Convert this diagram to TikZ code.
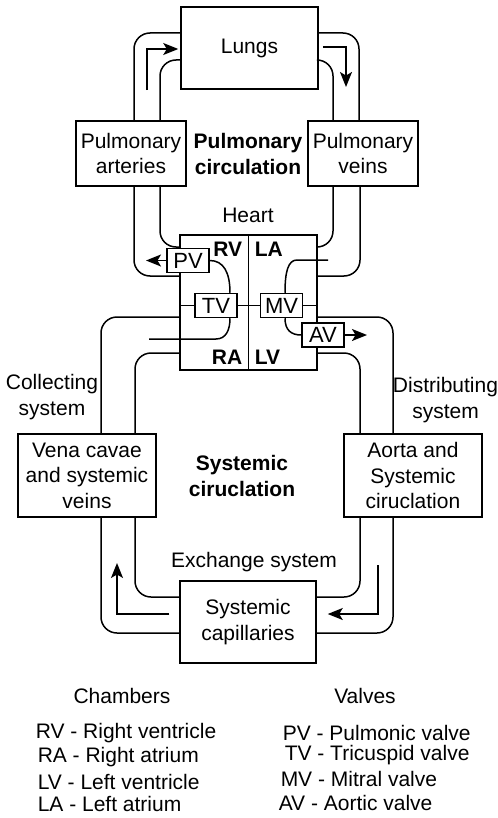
\documentclass[tikz,border=0pt]{standalone}
\usepackage{fontspec}
\setmainfont{Liberation Sans}
\usetikzlibrary{arrows.meta}

\begin{document}
\begin{tikzpicture}[x=1bp, y=-1bp, line width=1.5bp,
    font=\fontsize{21bp}{25.5bp}\selectfont,
    organ/.style={draw, align=center, inner sep=0pt},
    valve/.style={draw, fill=white, inner sep=0pt, minimum width=42bp, minimum height=24bp,
        font=\fontsize{22bp}{25.5bp}\selectfont},
    chamber/.style={font=\fontsize{21bp}{25.5bp}\selectfont\bfseries, inner sep=0pt},
    legend/.style={anchor=west, inner sep=0pt},
    tube/.style={rounded corners=16bp},
    flow/.style={-{Stealth[length=15bp, width=12bp, inset=3.5bp]}}]
    \useasboundingbox (0,0) rectangle (498,818);

    % Pulmonary side
    \node[organ, minimum width=137bp, minimum height=82bp] (lungs) at (249.5,48) {Lungs};
    \node[organ, minimum width=110bp, minimum height=65bp] (art) at (131,153.5) {Pulmonary\\arteries};
    \node[organ, minimum width=110bp, minimum height=65bp] (vein) at (363,153.5) {Pulmonary\\veins};
    \node[chamber, align=center] (pulm) at (248,154) {Pulmonary\\circulation};

    \draw[tube] (art.north -| 134,0) |- (lungs.west |- 0,33);
    \draw[tube] (art.north -| 160,0) |- (lungs.west |- 0,60);
    \draw[tube] (lungs.east |- 0,33) -| (vein.north -| 359,0);
    \draw[tube] (lungs.east |- 0,60) -| (vein.north -| 333,0);

    \coordinate (lungin) at (147,90);
    \coordinate (lungout) at (346,87);
    \draw[flow, shorten >=2bp] (lungin) |- (lungs.west |- 0,49);
    \draw[flow, shorten <=4bp] (lungs.east |- 0,47) -| (lungout);

    % Heart
    \node[draw, minimum width=137bp, minimum height=135bp] (heart) at (248.5,302.5) {};
    \node (heartlabel) at (248,215) {Heart};
    \draw (heart.north) -- (heart.south);
    \node[chamber, anchor=east] (rv) at (243,249) {RV};
    \node[chamber, anchor=west] (la) at (254,249) {LA};
    \node[chamber, anchor=east] (ra) at (243,357) {RA};
    \node[chamber, anchor=west] (lv) at (254,357) {LV};

    \node[valve] (pv) at (188,260.5) {PV};
    \node[valve] (tv) at (216,305.5) {TV};
    \node[valve] (mv) at (281.5,305.5) {MV};
    \node[valve] (av) at (323,335) {AV};

    \draw (heart.west |- tv) -- (tv.west);
    \draw (tv.east) -- (mv.west);
    \draw (mv.east) -- (heart.east |- mv);

    % Flow through the heart
    \coordinate (rain) at (149,339);
    \coordinate (lain) at (328,260);
    \coordinate (pvout) at (146,260.5);
    \coordinate (avout) at (367,335);
    \draw (pv.east) .. controls +(14,0) and +(0,-20) .. (tv.north -| 230,0);
    \draw (rain) -- (216,339) .. controls (226,339) and (230,330) .. (tv.south -| 230,0);
    \draw (lain) -- (297,260) .. controls (288,260) and (285,272) .. (mv.north -| 285,0);
    \draw (mv.south -| 285,0) .. controls (285,330) and (291,335) .. (av.west);
    \draw[flow] (pv.west) -- (pvout);
    \draw[flow] (av.east) -- (avout);

    \draw[tube] (art.south -| 160,0) |- (heart.west |- 0,247);
    \draw[tube] (art.south -| 134,0) |- (heart.west |- 0,276);
    \draw[tube] (vein.south -| 333,0) |- (heart.east |- 0,247);
    \draw[tube] (vein.south -| 360,0) |- (heart.east |- 0,276);

    % Systemic side
    \node[organ, minimum width=138bp, minimum height=83bp] (vena) at (87,475.5) {Vena cavae\\and systemic\\veins};
    \node[organ, minimum width=138bp, minimum height=83bp] (aorta) at (413,475.5) {Aorta and\\Systemic\\ciruclation};
    \node[organ, minimum width=136bp, minimum height=82bp] (cap) at (248,622) {Systemic\\capillaries};
    \node[align=center] (collect) at (52,397) {Collecting\\system};
    \node[align=center] (distrib) at (445.5,400) {Distributing\\system};
    \node[chamber, align=center] (syst) at (242,476) {Systemic\\ciruclation};
    \node (exch) at (254,562) {Exchange system};

    \draw[tube] (heart.west |- 0,317) -| (vena.north -| 101,0);
    \draw[tube] (heart.west |- 0,353) -| (vena.north -| 135,0);
    \draw[tube] (heart.east |- 0,317) -| (aorta.north -| 393,0);
    \draw[tube] (heart.east |- 0,353) -| (aorta.north -| 360,0);

    \draw[tube] (vena.south -| 135,0) |- (cap.west |- 0,597);
    \draw[tube] (vena.south -| 101,0) |- (cap.west |- 0,633);
    \draw[tube] (aorta.south -| 360,0) |- (cap.east |- 0,597);
    \draw[tube] (aorta.south -| 393,0) |- (cap.east |- 0,633);

    \coordinate (venain) at (117,563);
    \coordinate (capin) at (378,565);
    \draw[flow, shorten <=10bp] (cap.west |- 0,614) -| (venain);
    \draw[flow, shorten >=11bp] (capin) |- (cap.east |- 0,614);

    % Legend
    \node (chambers) at (122,696) {Chambers};
    \node (valves) at (365,696) {Valves};
    \node[legend] (lrv) at (35,733) {RV - Right ventricle};
    \node[legend] (lra) at (37,757) {RA - Right atrium};
    \node[legend] (llv) at (37,782) {LV - Left ventricle};
    \node[legend] (lla) at (37,804) {LA - Left atrium};
    \node[legend] (lpv) at (282,733) {PV - Pulmonic valve};
    \node[legend] (ltv) at (284,755) {TV - Tricuspid valve};
    \node[legend] (lmv) at (280,779) {MV - Mitral valve};
    \node[legend] (lav) at (278,803) {AV - Aortic valve};
\end{tikzpicture}
\end{document}
